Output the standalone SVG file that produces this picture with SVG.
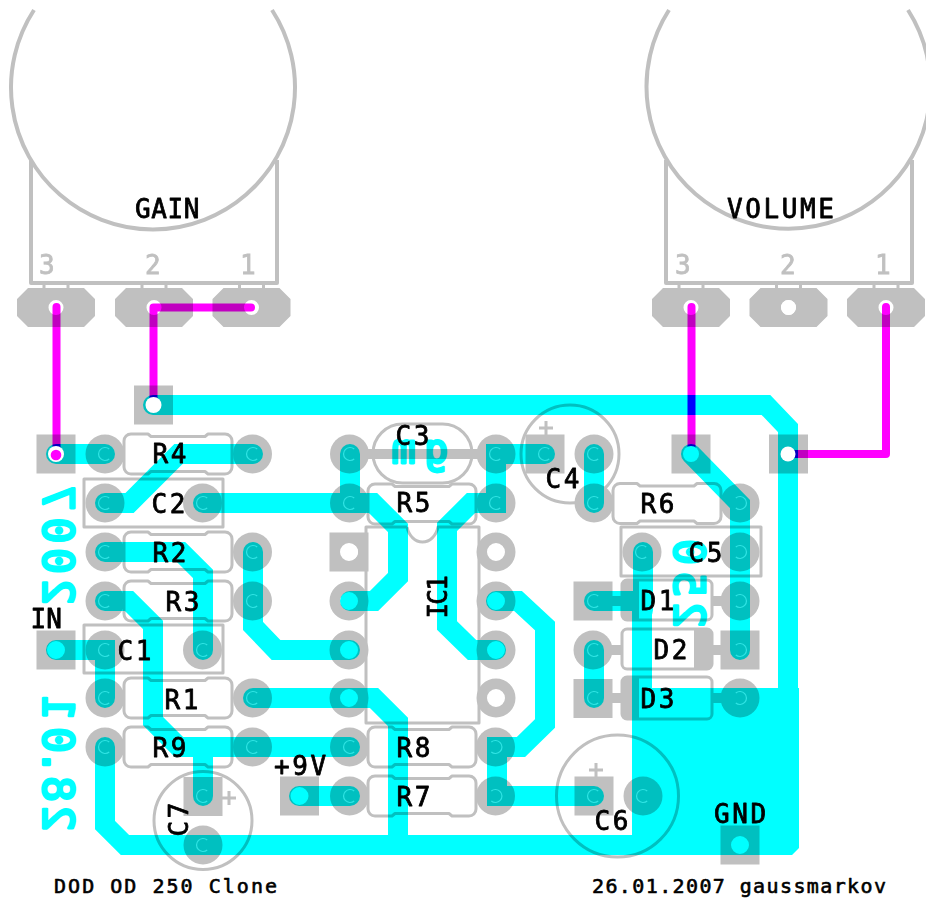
<svg xmlns="http://www.w3.org/2000/svg" xmlns:xlink="http://www.w3.org/1999/xlink" width="926" height="902" viewBox="0 0 926 902">
<style>
.tr{fill:none;stroke:#0ff;stroke-width:20;stroke-linecap:round;stroke-linejoin:miter}
.cu{font-family:"DejaVu Sans Mono","Liberation Mono",monospace;font-size:43px;fill:#0ff;stroke:#0ff;stroke-width:2.8;stroke-linejoin:round}
.ly{mix-blend-mode:multiply}
.o{fill:none;stroke:#c0c0c0;stroke-width:3;stroke-linejoin:round}
.p{stroke-width:4}
.f{fill:#c0c0c0;fill-rule:evenodd}
.b{stroke:#c0c0c0;stroke-width:10;fill:none}
.t{font-family:"DejaVu Sans Mono","Liberation Mono",monospace;font-size:26px;letter-spacing:2.6px;fill:#000;stroke:#000;stroke-width:.8;stroke-linejoin:round}
.s{font-family:"DejaVu Sans Mono","Liberation Mono",monospace;font-size:20px;letter-spacing:2px;fill:#000;stroke:#000;stroke-width:.6;stroke-linejoin:round}
.d{font-family:"DejaVu Sans Mono","Liberation Mono",monospace;font-size:26px;fill:#c0c0c0;stroke:#c0c0c0;stroke-width:.8}
.w{fill:none;stroke:#f0f;stroke-width:8;stroke-linecap:round;stroke-linejoin:round}
.c{fill:none;stroke:#30e4e4;stroke-width:1.2}
</style>
<defs>
<path id="rp" class="f" d="M-19.5 0a19.5 19.5 0 1 0 39 0a19.5 19.5 0 1 0-39 0z"/>
<path id="rc" class="f" d="M-19.5 0a19.5 19.5 0 1 0 39 0a19.5 19.5 0 1 0-39 0zM-9 0a9 9 0 1 0 18 0a9 9 0 1 0-18 0z"/>
<path id="sp" class="f" d="M-19.5-19.5h39v39h-39z"/>
<path id="sc" class="f" d="M-19.5-19.5h39v39h-39zM-9 0a9 9 0 1 0 18 0a9 9 0 1 0-18 0z"/>
<path id="op" class="f" d="M-28-19.5h56l11 11v17l-11 11h-56l-11-11v-17zM-7.5 0a7.5 7.5 0 1 0 15 0a7.5 7.5 0 1 0-15 0z"/>
<path id="res" class="o" d="M-47-20H-30L-27-17.5H27L30-20H47A7 7 0 0 1 54-13V13A7 7 0 0 1 47 20H30L27 17.5H-27L-30 20H-47A7 7 0 0 1-54 13V-13A7 7 0 0 1-47-20Z"/>
<path id="arc" class="c" d="M4.2-5A6.5 6.5 0 1 0 4.2 5"/>
<path id="cra" class="c" d="M-4.2-5A6.5 6.5 0 1 1-4.2 5"/>
<path id="leads" class="o" d="M-12-24V-19M12-24V-19"/>
</defs>
<rect width="926" height="902" fill="#fff"/>

<g id="copper">
<path class="tr" d="M153 405H766L788 428V700"/>
<path fill="#0ff" d="M632 600H652V688H799V848L792 855H125V835H632Z"/>
<path class="tr" d="M643 552V610"/>
<path class="tr" d="M56 454H105"/>
<path class="tr" d="M105 503H129.5L178.5 454H253"/>
<path class="tr" d="M203 503H373L398 528V577L374 601H350"/>
<path class="tr" d="M350 454V503"/>
<path class="tr" d="M105 552H181L203 574V650"/>
<path class="tr" d="M105 601H129L153 625V721L179 747H350"/>
<path class="tr" d="M203 747V796"/>
<path class="tr" d="M253 552V626L276 650H350"/>
<path class="tr" d="M56 650H105V698"/>
<path class="tr" d="M253 698H350"/>
<path class="tr" d="M350 698H374L398 722V845"/>
<path class="tr" d="M105 747V825L125 845H640"/>
<path class="tr" d="M299 796H350"/>
<path class="tr" d="M545 454H496V503H471L447 527V625.5L472 650H496"/>
<path class="tr" d="M496 601H518L545 626V723.5L521 747H497V796H594"/>
<path class="tr" d="M594 454V503"/>
<path class="tr" d="M594 601H640"/>
<path class="tr" d="M594 650V698"/>
<path class="tr" d="M691 454L740 504V650"/>
<text class="cu" transform="matrix(0,-1,-1,0,43,830)" x="-1.5 28 55 77 109">28.01</text>
<text class="cu" transform="matrix(0,-1,-1,0,43,604)" x="-1 30 60.5 93">2007</text>
<text class="cu" transform="matrix(0,-1,-1,0,674,627)" x="-1 30 62">250</text>
<text class="cu" style="font-size:40px" transform="matrix(-1,0,0,1,448,463)" x="0 32.5">gm</text>
</g>

<g id="parts" class="ly">
<g id="GAIN">
<path class="o p" d="M34 10A142 142 0 1 0 272 10M31 160V283H277V160"/>
<use xlink:href="#op" x="56" y="307.5"/><use xlink:href="#op" x="154" y="307.5"/><use xlink:href="#op" x="251.5" y="307.5"/>
<use xlink:href="#leads" x="56" y="307.5"/><use xlink:href="#leads" x="154" y="307.5"/><use xlink:href="#leads" x="251.5" y="307.5"/>
<text class="d" x="39" y="274">3</text><text class="d" x="145" y="274">2</text><text class="d" x="240" y="274">1</text>
<text class="t" x="135" y="218" textLength="67">GAIN</text>
</g>
<g id="VOLUME">
<path class="o p" d="M669 10A142 142 0 1 0 908 10M666 160V283H912V160"/>
<use xlink:href="#op" x="691" y="307.5"/><use xlink:href="#op" x="788.5" y="307.5"/><use xlink:href="#op" x="886" y="307.5"/>
<use xlink:href="#leads" x="691" y="307.5"/><use xlink:href="#leads" x="788.5" y="307.5"/><use xlink:href="#leads" x="886" y="307.5"/>
<text class="d" x="675" y="274">3</text><text class="d" x="780" y="274">2</text><text class="d" x="875" y="274">1</text>
<text class="t" x="727" y="218">VOLUME</text>
</g>
<g id="J-pot1"><use xlink:href="#sp" x="153.5" y="405"/></g>
<g id="J-in"><use xlink:href="#sp" x="56" y="454"/></g>
<g id="IN"><use xlink:href="#sc" x="56" y="650"/><text class="t" style="letter-spacing:0" x="30.5" y="628">IN</text></g>
<g id="V9"><use xlink:href="#sc" x="299.5" y="796"/><text class="t" x="274" y="775">+9V</text></g>
<g id="GND"><use xlink:href="#sc" x="740" y="845"/><text class="t" x="714" y="823">GND</text></g>
<g id="J-vol3"><use xlink:href="#sp" x="691" y="454"/></g>
<g id="J-vol1"><use xlink:href="#sp" x="788.5" y="454"/></g>

<g id="R4"><use xlink:href="#res" x="178" y="454"/><use xlink:href="#rp" x="105" y="454"/><use xlink:href="#rp" x="252.5" y="454"/><text class="t" x="152.5" y="463">R4</text></g>
<g id="C2"><rect class="o" x="84" y="479" width="139" height="48"/><use xlink:href="#rp" x="105" y="503"/><use xlink:href="#rp" x="202.5" y="503"/><text class="t" x="151.5" y="512.5">C2</text></g>
<g id="R2"><use xlink:href="#res" x="178" y="552"/><use xlink:href="#rp" x="105" y="552"/><use xlink:href="#rp" x="252.5" y="552"/><text class="t" x="152.5" y="561.5">R2</text></g>
<g id="R3"><use xlink:href="#res" x="178" y="601"/><use xlink:href="#rp" x="105" y="601"/><use xlink:href="#rp" x="252.5" y="601"/><text class="t" x="165.5" y="610.5">R3</text></g>
<g id="C1"><rect class="o" x="84" y="625" width="139" height="48"/><use xlink:href="#rp" x="105" y="650"/><use xlink:href="#rp" x="202.5" y="650"/><text class="t" x="117.5" y="660">C1</text></g>
<g id="R1"><use xlink:href="#res" x="178" y="698"/><use xlink:href="#rp" x="105" y="698"/><use xlink:href="#rp" x="252.5" y="698"/><text class="t" x="164.5" y="709">R1</text></g>
<g id="R9"><use xlink:href="#res" x="178" y="747"/><use xlink:href="#rp" x="105" y="747"/><use xlink:href="#rp" x="252.5" y="747"/><text class="t" x="152.5" y="757">R9</text></g>
<g id="C7"><circle class="o" cx="203" cy="820.5" r="49"/><use xlink:href="#sp" x="203" y="796.5"/><use xlink:href="#rp" x="203" y="845"/><path class="o" d="M229 791V805M222 798H236"/><text class="t" transform="translate(188 836.5) rotate(-90)">C7</text></g>

<g id="C3"><rect class="o" x="373" y="424" width="99" height="59" rx="29.5"/><path class="b" d="M350 454H496"/><use xlink:href="#rp" x="349.5" y="454"/><use xlink:href="#rp" x="496" y="454"/><text class="t" x="395.5" y="445">C3</text></g>
<g id="R5"><use xlink:href="#res" x="422" y="504"/><use xlink:href="#rp" x="349.5" y="503"/><use xlink:href="#rp" x="496" y="503"/><text class="t" x="396.5" y="512">R5</text></g>
<g id="IC1"><path class="o" d="M407 527H366V723H479V527H438A16 20 0 0 1 407 527"/>
<use xlink:href="#sc" x="349" y="552"/><use xlink:href="#rc" x="349" y="601"/><use xlink:href="#rc" x="349" y="650"/><use xlink:href="#rc" x="349" y="698"/>
<use xlink:href="#rc" x="496" y="552"/><use xlink:href="#rc" x="496" y="601"/><use xlink:href="#rc" x="496" y="650"/><use xlink:href="#rc" x="496" y="698"/>
<text class="t" transform="translate(447 618.5) rotate(-90)" textLength="46">IC1</text></g>
<g id="R8"><use xlink:href="#res" x="422" y="747"/><use xlink:href="#rp" x="349.5" y="747"/><use xlink:href="#rp" x="495.5" y="747"/><text class="t" x="396.5" y="757">R8</text></g>
<g id="R7"><use xlink:href="#res" x="422" y="796"/><use xlink:href="#rp" x="349.5" y="796"/><use xlink:href="#rp" x="495.5" y="796"/><text class="t" x="396.5" y="806">R7</text></g>

<g id="C4"><circle class="o" cx="570" cy="454" r="49"/><use xlink:href="#sp" x="545" y="454"/><use xlink:href="#rp" x="594" y="454"/><path class="o" d="M546 421V435M539 428H553"/><text class="t" x="545.5" y="488">C4</text></g>
<g id="R6"><use xlink:href="#res" x="667" y="503.5"/><use xlink:href="#rp" x="594" y="503"/><use xlink:href="#rp" x="740" y="503"/><text class="t" x="640.5" y="513">R6</text></g>
<g id="C5"><rect class="o" x="621" y="527" width="140" height="49"/><use xlink:href="#rp" x="642" y="552"/><use xlink:href="#rp" x="740" y="552"/><text class="t" x="688.5" y="562">C5</text></g>
<g id="D1"><path class="b" d="M594 601H622M712 601H741"/><rect class="o" x="622" y="580" width="90" height="40" rx="5" fill="none"/><rect class="f" x="622" y="581" width="17" height="38"/><use xlink:href="#sp" x="593" y="601"/><use xlink:href="#rp" x="740" y="601"/><text class="t" x="640.5" y="610">D1</text></g>
<g id="D2"><path class="b" d="M594 650H622M712 650H741"/><rect class="o" x="622" y="629" width="90" height="40" rx="5"/><rect class="f" x="694" y="630" width="17" height="38"/><use xlink:href="#rp" x="593" y="650"/><use xlink:href="#sp" x="740" y="650"/><text class="t" x="653.5" y="659">D2</text></g>
<g id="D3"><path class="b" d="M594 698H622M712 698H741"/><rect class="o" x="622" y="677" width="90" height="42" rx="5"/><rect class="f" x="622" y="678" width="17" height="40"/><use xlink:href="#sp" x="593" y="698.5"/><use xlink:href="#rp" x="740" y="698"/><text class="t" x="640.5" y="708">D3</text></g>
<g id="C6"><circle class="o" cx="617.5" cy="796" r="61"/><use xlink:href="#sp" x="594" y="796"/><use xlink:href="#rp" x="643" y="796"/><path class="o" d="M596 763V777M589 770H603"/><text class="t" x="594.5" y="830">C6</text></g>
</g>

<g id="connectors" class="ly">
<path class="w" d="M56.5 307V454"/>
<path class="w" d="M251 307.5H153.5V405"/>
<path class="w" d="M691.5 307V454"/>
<path class="w" d="M886 307V454H788"/>
</g>

<g id="drills">
<circle cx="56" cy="454" r="8" fill="#fff"/><circle cx="56" cy="455" r="5.3" fill="#f0f"/>
<circle cx="153.5" cy="405" r="8" fill="#fff"/>
<circle cx="788" cy="454" r="7.5" fill="#fff"/>
<circle cx="691" cy="454" r="8" fill="#0ff"/>
<circle cx="350" cy="552" r="8" fill="#fff"/>
<circle cx="496" cy="552" r="8" fill="#fff"/>
<circle cx="496" cy="698" r="8" fill="#fff"/>
<circle cx="788.5" cy="307.5" r="7.5" fill="#fff"/>
<g>
<use xlink:href="#arc" x="105" y="454"/><use xlink:href="#arc" x="253" y="454"/><use xlink:href="#arc" x="105" y="503"/><use xlink:href="#arc" x="203" y="503"/>
<use xlink:href="#arc" x="105" y="552"/><use xlink:href="#arc" x="253" y="552"/><use xlink:href="#arc" x="105" y="601"/><use xlink:href="#arc" x="253" y="601"/>
<use xlink:href="#arc" x="105" y="650"/><use xlink:href="#arc" x="203" y="650"/><use xlink:href="#arc" x="105" y="698"/><use xlink:href="#arc" x="253" y="698"/>
<use xlink:href="#arc" x="105" y="747"/><use xlink:href="#arc" x="253" y="747"/><use xlink:href="#arc" x="203" y="796"/><use xlink:href="#arc" x="203" y="845"/>
<use xlink:href="#arc" x="350" y="454"/><use xlink:href="#arc" x="350" y="503"/><use xlink:href="#arc" x="350" y="747"/><use xlink:href="#arc" x="350" y="796"/>
<use xlink:href="#arc" x="496" y="454"/><use xlink:href="#arc" x="496" y="503"/><use xlink:href="#cra" x="495.5" y="747"/><use xlink:href="#cra" x="495.5" y="796"/>
<use xlink:href="#arc" x="545" y="454"/><use xlink:href="#arc" x="594" y="454"/><use xlink:href="#arc" x="594" y="503"/><use xlink:href="#arc" x="642" y="552"/>
<use xlink:href="#cra" x="740" y="503"/><use xlink:href="#cra" x="740" y="552"/><use xlink:href="#cra" x="740" y="601"/><use xlink:href="#cra" x="740" y="650"/>
<use xlink:href="#arc" x="594" y="601"/><use xlink:href="#arc" x="594" y="650"/><use xlink:href="#arc" x="594" y="698"/><use xlink:href="#cra" x="740" y="698"/>
<use xlink:href="#arc" x="594" y="796"/><use xlink:href="#arc" x="643" y="796"/>
</g>
</g>

<g id="titles">
<text class="s" x="54" y="893" textLength="225">DOD OD 250 Clone</text>
<text class="s" x="592" y="893" textLength="296">26.01.2007 gaussmarkov</text>
</g>
</svg>
